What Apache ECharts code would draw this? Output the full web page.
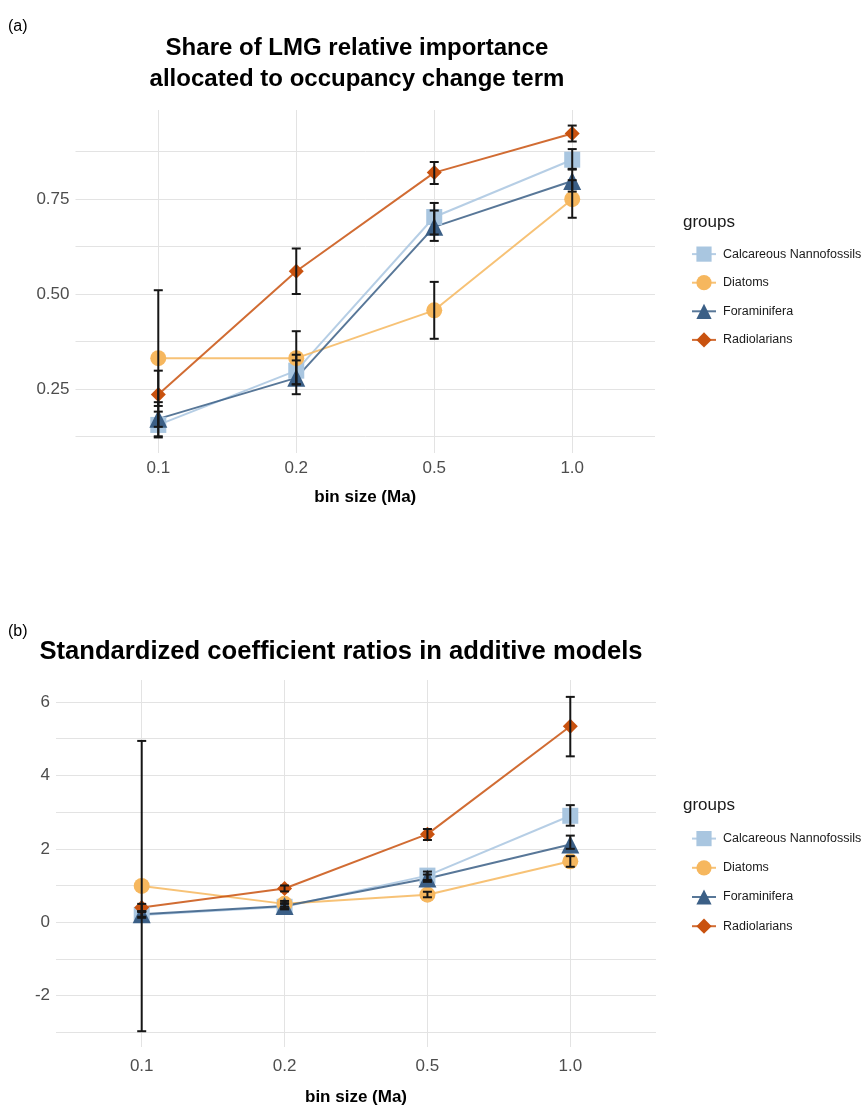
<!DOCTYPE html>
<html><head><meta charset="utf-8">
<script src="https://cdn.jsdelivr.net/npm/echarts@6/dist/echarts.min.js"></script>
<style>html,body{margin:0;padding:0;background:#fff;}#c{width:863px;height:1107px;}</style>
</head><body><div id="c"></div>
<script>
const categories = ['0.1', '0.2', '0.5', '1.0'];
const groups = ['Calcareous Nannofossils', 'Diatoms', 'Foraminifera', 'Radiolarians'];

// Panel (a): share of LMG relative importance
const calcA = [0.155, 0.298, 0.703, 0.854];
const calcA_lo = [0.125, 0.262, 0.640, 0.830];
const calcA_hi = [0.190, 0.340, 0.740, 0.882];
const diaA = [0.331, 0.331, 0.457, 0.750];
const diaA_lo = [0.150, 0.262, 0.382, 0.701];
const diaA_hi = [0.510, 0.402, 0.532, 0.800];
const foraA = [0.171, 0.279, 0.677, 0.798];
const foraA_lo = [0.122, 0.236, 0.657, 0.770];
const foraA_hi = [0.215, 0.325, 0.720, 0.828];
const radA = [0.235, 0.560, 0.820, 0.923];
const radA_lo = [0.205, 0.500, 0.790, 0.902];
const radA_hi = [0.298, 0.620, 0.848, 0.944];

// Panel (b): standardized coefficient ratios
const calcB = [0.20, 0.42, 1.27, 2.90];
const calcB_lo = [0.12, 0.35, 1.15, 2.63];
const calcB_hi = [0.28, 0.50, 1.38, 3.19];
const diaB = [0.99, 0.50, 0.75, 1.66];
const diaB_lo = [-2.97, 0.42, 0.68, 1.51];
const diaB_hi = [4.94, 0.58, 0.83, 1.80];
const foraB = [0.22, 0.44, 1.19, 2.12];
const foraB_lo = [0.15, 0.37, 1.10, 2.00];
const foraB_hi = [0.30, 0.52, 1.30, 2.36];
const radB = [0.40, 0.92, 2.40, 5.34];
const radB_lo = [0.30, 0.84, 2.24, 4.52];
const radB_hi = [0.50, 1.00, 2.54, 6.14];

const yTicksA = [0.25, 0.50, 0.75];
const yGridA = [0.125, 0.25, 0.375, 0.5, 0.625, 0.75, 0.875];
const yTicksB = [-2, 0, 2, 4, 6];
const yGridB = [-3, -2, -1, 0, 1, 2, 3, 4, 5, 6];

const colors = ['#a9c6e0', '#f6b75e', '#3b5f86', '#c9520f'];
const symbols = ['rect', 'circle', 'triangle', 'diamond'];
const symSizes = [16, 16, 18, 15];
const FONT = '"Liberation Sans", Arial, sans-serif';

const chart = echarts.init(document.getElementById('c'), null, {renderer: 'canvas'});

function pts(arr) { return arr.map((v, i) => [i + 1, v]); }
function errData(lo, hi) { return lo.map((l, i) => [i + 1, l, hi[i]]); }

function errSeries(idx, lo, hi) {
  return {
    type: 'custom', xAxisIndex: idx, yAxisIndex: idx, z: 5, silent: true,
    data: errData(lo, hi),
    encode: {x: 0, y: [1, 2]},
    renderItem: function (params, api) {
      const x = api.value(0);
      const p1 = api.coord([x, api.value(1)]);
      const p2 = api.coord([x, api.value(2)]);
      const w = 4.5;
      const st = {stroke: '#161616', lineWidth: 2};
      return {type: 'group', children: [
        {type: 'line', shape: {x1: p1[0], y1: p1[1], x2: p2[0], y2: p2[1]}, style: st},
        {type: 'line', shape: {x1: p1[0] - w, y1: p1[1], x2: p1[0] + w, y2: p1[1]}, style: st},
        {type: 'line', shape: {x1: p2[0] - w, y1: p2[1], x2: p2[0] + w, y2: p2[1]}, style: st}
      ]};
    }
  };
}

function lineSeries(idx, k, vals) {
  return {
    name: groups[k], type: 'line', xAxisIndex: idx, yAxisIndex: idx, z: 3,
    data: pts(vals), symbol: symbols[k], symbolSize: symSizes[k],
    showAllSymbol: true,
    itemStyle: {color: colors[k], opacity: 1},
    lineStyle: {color: colors[k], width: 2, opacity: 0.85},
    emphasis: {disabled: true}, animation: false
  };
}

function xAxisDef(labelMargin, nameGap) {
  return {
    type: 'value', min: 0.4, max: 4.6,
    axisLine: {show: false},
    axisTick: {show: false, customValues: [1, 2, 3, 4]},
    axisLabel: {customValues: [1, 2, 3, 4], formatter: v => categories[Math.round(v) - 1] || '',
      color: '#4d4d4d', fontSize: 17, fontFamily: FONT, margin: labelMargin},
    splitLine: {show: true, lineStyle: {color: '#e3e3e3', width: 1}},
    name: 'bin size (Ma)', nameLocation: 'middle', nameGap: nameGap,
    nameTextStyle: {color: '#000', fontSize: 17, fontWeight: 'bold', fontFamily: FONT}
  };
}

function yAxisDef(min, max, ticks, grid, fmt) {
  return {
    type: 'value', min: min, max: max,
    axisLine: {show: false},
    axisTick: {show: false, customValues: grid},
    axisLabel: {customValues: ticks, formatter: fmt, color: '#4d4d4d', fontSize: 17, fontFamily: FONT, margin: 6},
    splitLine: {show: true, lineStyle: {color: '#e3e3e3', width: 1}}
  };
}

function legendDef(top, gap) {
  return {
    orient: 'vertical', left: 686, top: top, itemWidth: 24, itemHeight: 19, itemGap: gap,
    data: groups, selectedMode: false,
    textStyle: {fontSize: 12.5, color: '#1a1a1a', fontFamily: FONT, padding: [0, 0, 0, 2]}
  };
}

const series = [];
[calcA, diaA, foraA, radA].forEach((v, k) => series.push(lineSeries(0, k, v)));
[calcB, diaB, foraB, radB].forEach((v, k) => series.push(lineSeries(1, k, v)));
series.push(errSeries(0, calcA_lo, calcA_hi));
series.push(errSeries(0, diaA_lo, diaA_hi));
series.push(errSeries(0, foraA_lo, foraA_hi));
series.push(errSeries(0, radA_lo, radA_hi));
series.push(errSeries(1, calcB_lo, calcB_hi));
series.push(errSeries(1, diaB_lo, diaB_hi));
series.push(errSeries(1, foraB_lo, foraB_hi));
series.push(errSeries(1, radB_lo, radB_hi));

chart.setOption({
  backgroundColor: '#fff',
  animation: false,
  title: [
    {text: 'Share of LMG relative importance\nallocated to occupancy change term', left: 352, top: 28, textAlign: 'center',
      textStyle: {fontSize: 24, fontWeight: 'bold', fontFamily: FONT, color: '#000', lineHeight: 31}},
    {text: 'Standardized coefficient ratios in additive models', left: 336, top: 634, textAlign: 'center',
      textStyle: {fontSize: 25.6, fontWeight: 'bold', fontFamily: FONT, color: '#000'}}
  ],
  graphic: [
    {type: 'text', left: 8, top: 19, style: {text: '(a)', fontSize: 16, fontFamily: FONT, fill: '#000'}},
    {type: 'text', left: 8, top: 624, style: {text: '(b)', fontSize: 16, fontFamily: FONT, fill: '#000'}},
    {type: 'text', left: 683, top: 214, style: {text: 'groups', fontSize: 17, fontFamily: FONT, fill: '#1a1a1a'}},
    {type: 'text', left: 683, top: 797, style: {text: 'groups', fontSize: 17, fontFamily: FONT, fill: '#1a1a1a'}}
  ],
  legend: [legendDef(241.5, 13.4), legendDef(826, 14)],
  grid: [
    {left: 75.5, width: 579.5, top: 110, height: 343},
    {left: 56, width: 600, top: 680, height: 374}
  ],
  xAxis: [Object.assign({gridIndex: 0}, xAxisDef(7, 36)), Object.assign({gridIndex: 1}, xAxisDef(11, 42))],
  yAxis: [
    Object.assign({gridIndex: 0}, yAxisDef(0.081, 0.985, yTicksA, yGridA, v => v.toFixed(2))),
    Object.assign({gridIndex: 1}, yAxisDef(-3.4, 6.6, yTicksB, yGridB, v => String(Math.round(v))))
  ],
  series: series
});
</script>
</body></html>
